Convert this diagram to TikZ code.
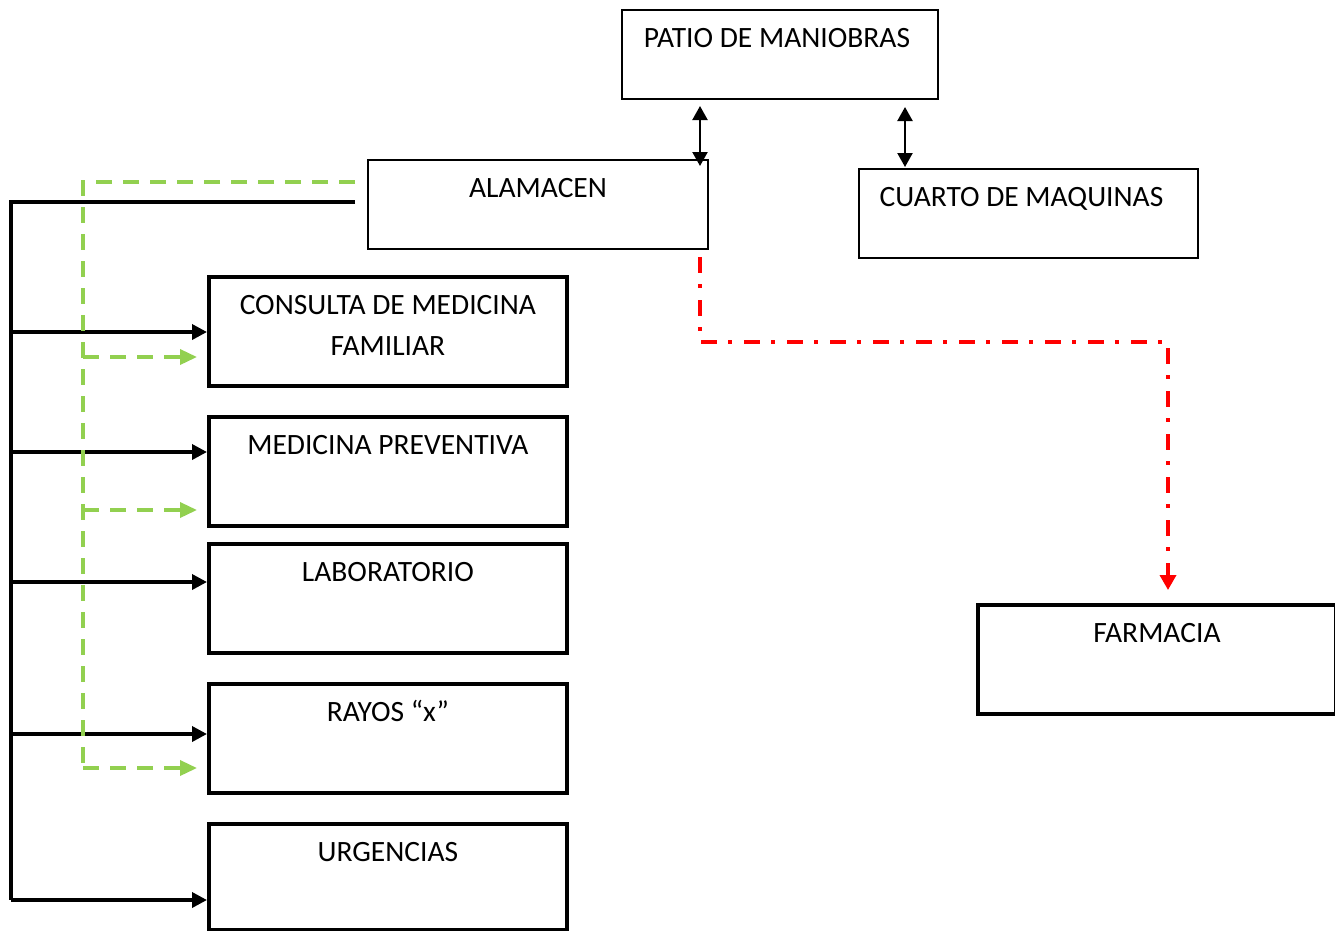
\documentclass[tikz,border=0pt]{standalone}
\usepackage{fontspec}
\setmainfont{Carlito}
\usetikzlibrary{arrows.meta}
\begin{document}
\begin{tikzpicture}[x=1pt,y=-1pt,
  thinbox/.style={draw, line width=2pt, rectangle, inner sep=0pt, anchor=north west},
  thickbox/.style={draw, line width=3.8pt, rectangle, inner sep=0pt, anchor=north west, minimum width=358pt, minimum height=109pt},
  lbl/.style={font=\fontsize{29.5}{41}\selectfont, anchor=base, align=center, inner sep=0pt},
  blk/.style={line width=3.5pt, black},
  blkarrow/.style={blk, -{Triangle[length=15pt,width=15pt]}},
  dbl/.style={line width=2.2pt, {Triangle[length=14pt,width=15pt]}-{Triangle[length=14pt,width=15pt]}},
  grn/.style={line width=3.5pt, color={rgb,255:red,146;green,208;blue,80}, dash pattern=on 16pt off 11pt},
  grnarrow/.style={grn, -{Triangle[length=17pt,width=15pt]}},
  redline/.style={line width=3.5pt, red, dash pattern=on 16pt off 11pt on 4pt off 12pt, -{Triangle[length=15pt,width=16pt]}}
]
\useasboundingbox (0,0) rectangle (1335,930);

% boxes
\node[thinbox, minimum width=316pt, minimum height=89pt] (patio) at (621,9) {};
\node[thinbox, minimum width=340pt, minimum height=89pt] (alm) at (367,159) {};
\node[thinbox, minimum width=339pt, minimum height=89pt] (cuarto) at (858,168) {};
\node[thickbox] (cons) at (207,275) {};
\node[thickbox] (prev) at (207,415) {};
\node[thickbox] (lab) at (207,542) {};
\node[thickbox] (rayos) at (207,682) {};
\node[thickbox, minimum height=106pt] (urg) at (207,822) {};
\node[thickbox] (farm) at (976,603) {};

% labels
\node[lbl] (tpatio) at ([yshift=-38pt,xshift=-3pt]patio.north) {PATIO DE MANIOBRAS};
\node[lbl] (talm) at ([yshift=-38pt]alm.north) {ALAMACEN};
\node[lbl] (tcuarto) at ([yshift=-38pt,xshift=-7pt]cuarto.north) {CUARTO DE MAQUINAS};
\node[lbl] (tcons) at ([yshift=-80pt]cons.north) {CONSULTA DE MEDICINA\\FAMILIAR};
\node[lbl] (tprev) at ([yshift=-39pt]prev.north) {MEDICINA PREVENTIVA};
\node[lbl] (tlab) at ([yshift=-39pt]lab.north) {LABORATORIO};
\node[lbl] (trayos) at ([yshift=-39pt]rayos.north) {RAYOS “x”};
\node[lbl] (turg) at ([yshift=-39pt]urg.north) {URGENCIAS};
\node[lbl] (tfarm) at ([yshift=-39pt]farm.north) {FARMACIA};

% double arrows
\coordinate (d1a) at (700,106);
\coordinate (d1b) at (700,166);
\coordinate (d2a) at (905,107);
\coordinate (d2b) at (905,167);
\draw[dbl] (d1a) -- (d1b);
\draw[dbl] (d2a) -- (d2b);

% black distribution line
\coordinate (bs) at (355,202);
\coordinate (bc) at (11,202);
\coordinate (b1) at (11,332);
\coordinate (b2) at (11,452);
\coordinate (b3) at (11,582);
\coordinate (b4) at (11,734);
\coordinate (b5) at (11,900);
\draw[blk] (bs) -- (bc) -- (b5);
\draw[blkarrow] (b1) -- (b1 -| cons.west);
\draw[blkarrow] (b2) -- (b2 -| prev.west);
\draw[blkarrow] (b3) -- (b3 -| lab.west);
\draw[blkarrow] (b4) -- (b4 -| rayos.west);
\draw[blkarrow] (b5) -- (b5 -| urg.west);

% green dashed line
\coordinate (gs) at (355,182);
\coordinate (gc) at (83,182);
\coordinate (g1) at (83,357);
\coordinate (g2) at (83,510);
\coordinate (g3) at (83,768);
\coordinate (ge1) at (197,357);
\coordinate (ge2) at (197,510);
\coordinate (ge3) at (197,768);
\draw[grn] (gs) -- (gc) -- (g3);
\draw[grnarrow] (g1) -- (ge1);
\draw[grnarrow] (g2) -- (ge2);
\draw[grnarrow] (g3) -- (ge3);

% red dash-dot line
\coordinate (r0) at (700,257);
\coordinate (r1) at (700,342);
\coordinate (r2) at (1168,342);
\coordinate (r3) at (1168,590);
\draw[redline] (r0) -- (r1) -- (r2) -- (r3);
\end{tikzpicture}
\end{document}
